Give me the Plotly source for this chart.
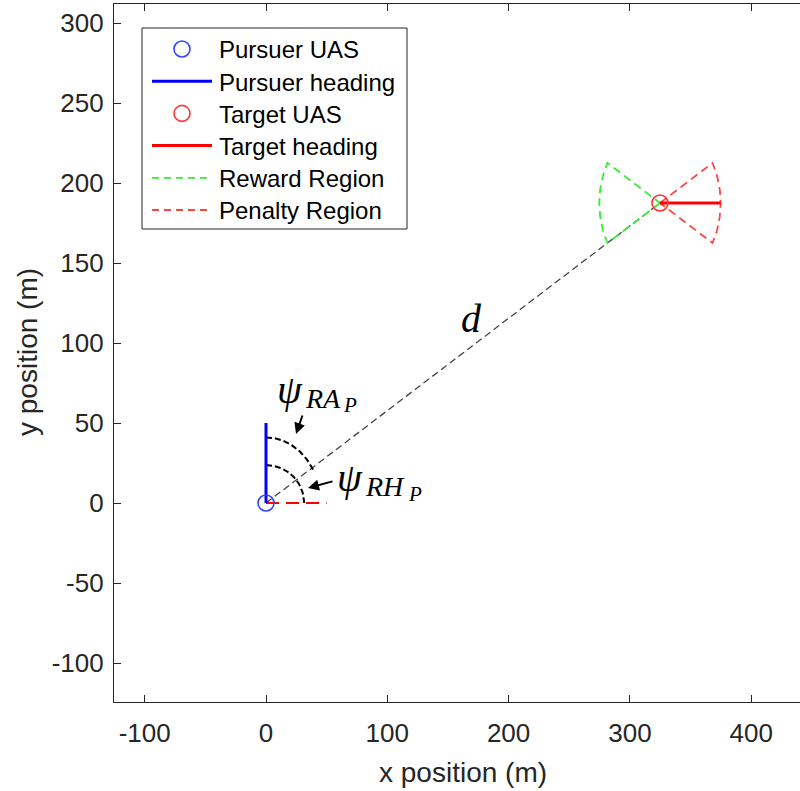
import numpy as np
import plotly.graph_objects as go

# ---------------- data ----------------
pursuer_xy = [0.0, 0.0]
pursuer_heading_deg = 90.0
target_xy = [324.8, 187.5]
target_heading_deg = 0.0
heading_len = 50.0
region_radius = 50.0
region_half_angle_deg = 30.0
ra_arc_radii = [45.0, 41.0]      # angle-marker arc (psi_RA), rx, ry
rh_arc_radii = [31.4, 23.7]      # angle-marker arc (psi_RH), rx, ry
los_angle_deg = 30.0

x_ticks = [-100, 0, 100, 200, 300, 400]
y_ticks = [-100, -50, 0, 50, 100, 150, 200, 250, 300]

legend_names = ["Pursuer UAS", "Pursuer heading", "Target UAS",
                "Target heading", "Reward Region", "Penalty Region"]

# ---------------- layout constants (screen pixels) ----------------
W, H = 800, 791
L_S, R_S, T_S, B_S = 114, 800, 4, 702   # plot box in screen px
ML, MT, MR, MB = L_S, T_S, W - R_S, H - B_S
X0PX, KX = 266.0, 1.213   # screen pixel of x=0, px per unit
Y0PX, KY = 503.0, 1.6
xr = [(L_S - X0PX) / KX, (R_S - X0PX) / KX]
yr = [(Y0PX - B_S) / KY, (Y0PX - T_S) / KY]
PW, PH = R_S - L_S, B_S - T_S


def px(xp):
    return (xp - L_S) / PW


def py(yp):
    return (B_S - yp) / PH


def dx(xp):
    return (xp - X0PX) / KX


def dy(yp):
    return (Y0PX - yp) / KY


BLUE = "#0000FF"
RED = "#FF0000"
GREEN = "#33EE33"
PRED = "#FF4444"
TXT = "#262626"

fig = go.Figure()

# line of sight
fig.add_trace(go.Scatter(x=[pursuer_xy[0], target_xy[0]], y=[pursuer_xy[1], target_xy[1]],
                         mode="lines", line=dict(color="#444444", width=1.3, dash="7px,4px"),
                         showlegend=False, hoverinfo="skip"))

# angle arcs
t1 = np.radians(np.linspace(pursuer_heading_deg, los_angle_deg, 60))
fig.add_trace(go.Scatter(x=pursuer_xy[0] + ra_arc_radii[0] * np.cos(t1),
                         y=pursuer_xy[1] + ra_arc_radii[1] * np.sin(t1),
                         mode="lines", line=dict(color="black", width=2, dash="6px,3px"),
                         showlegend=False, hoverinfo="skip"))
t2 = np.radians(np.linspace(pursuer_heading_deg, target_heading_deg, 60))
fig.add_trace(go.Scatter(x=pursuer_xy[0] + rh_arc_radii[0] * np.cos(t2),
                         y=pursuer_xy[1] + rh_arc_radii[1] * np.sin(t2),
                         mode="lines", line=dict(color="black", width=2, dash="6px,3px"),
                         showlegend=False, hoverinfo="skip"))

# target heading reference at pursuer
th = np.radians(target_heading_deg)
fig.add_trace(go.Scatter(x=[pursuer_xy[0], pursuer_xy[0] + heading_len * np.cos(th)],
                         y=[pursuer_xy[1], pursuer_xy[1] + heading_len * np.sin(th)],
                         mode="lines", line=dict(color=RED, width=2, dash="13px,7px"),
                         showlegend=False, hoverinfo="skip"))

# pursuer heading
ph = np.radians(pursuer_heading_deg)
fig.add_trace(go.Scatter(x=[pursuer_xy[0], pursuer_xy[0] + heading_len * np.cos(ph)],
                         y=[pursuer_xy[1], pursuer_xy[1] + heading_len * np.sin(ph)],
                         mode="lines", line=dict(color=BLUE, width=3),
                         name="Pursuer heading", showlegend=False))


def sector(center, direction_deg, half_deg, r):
    a = np.radians(np.linspace(direction_deg + half_deg, direction_deg - half_deg, 60))
    xs = np.concatenate([[center[0]], center[0] + r * np.cos(a), [center[0]]])
    ys = np.concatenate([[center[1]], center[1] + r * np.sin(a), [center[1]]])
    return xs, ys


rx_, ry_ = sector(target_xy, target_heading_deg + 180, region_half_angle_deg, region_radius)
fig.add_trace(go.Scatter(x=rx_, y=ry_, mode="lines",
                         line=dict(color=GREEN, width=1.8, dash="8px,5px"),
                         name="Reward Region", showlegend=False))
px_, py_ = sector(target_xy, target_heading_deg, region_half_angle_deg, region_radius)
fig.add_trace(go.Scatter(x=px_, y=py_, mode="lines",
                         line=dict(color=PRED, width=1.8, dash="8px,5px"),
                         name="Penalty Region", showlegend=False))

# target heading
fig.add_trace(go.Scatter(x=[target_xy[0], target_xy[0] + heading_len * np.cos(th)],
                         y=[target_xy[1], target_xy[1] + heading_len * np.sin(th)],
                         mode="lines", line=dict(color=RED, width=3),
                         name="Target heading", showlegend=False))

# UAS markers
fig.add_trace(go.Scatter(x=[pursuer_xy[0]], y=[pursuer_xy[1]], mode="markers",
                         marker=dict(symbol="circle-open", size=16, color="#3344FF",
                                     line=dict(width=1.6, color="#3344FF")),
                         name="Pursuer UAS", showlegend=False))
fig.add_trace(go.Scatter(x=[target_xy[0]], y=[target_xy[1]], mode="markers",
                         marker=dict(symbol="circle-open", size=16, color="#FF3333",
                                     line=dict(width=1.6, color="#FF3333")),
                         name="Target UAS", showlegend=False))

shapes = []
annotations = []

# ---------------- manual legend ----------------
shapes.append(dict(type="rect", xref="paper", yref="paper",
                   x0=px(142), x1=px(407), y0=py(229), y1=py(28),
                   line=dict(color=TXT, width=1), fillcolor="white", layer="above"))
leg_styles = [
    ("marker", "#3344FF", None),
    ("line", BLUE, dict(width=3)),
    ("marker", "#FF3333", None),
    ("line", RED, dict(width=3)),
    ("line", GREEN, dict(width=1.8, dash="7px,5px")),
    ("line", PRED, dict(width=1.8, dash="7px,5px")),
]
for i, (name, (kind, col, ls)) in enumerate(zip(legend_names, leg_styles)):
    yc = 49 + 32.2 * i
    if kind == "marker":
        shapes.append(dict(type="circle", xref="paper", yref="paper",
                           xsizemode="pixel", ysizemode="pixel",
                           xanchor=px(182), yanchor=py(yc),
                           x0=-8, x1=8, y0=-8, y1=8,
                           line=dict(color=col, width=1.6), layer="above"))
    else:
        shapes.append(dict(type="line", xref="paper", yref="paper",
                           x0=px(152), x1=px(212), y0=py(yc), y1=py(yc),
                           line=dict(color=col, **ls), layer="above"))
    annotations.append(dict(xref="paper", yref="paper", x=px(217), y=py(yc + 1),
                            xanchor="left", yanchor="middle", showarrow=False,
                            text=name, font=dict(family="Liberation Sans, Arial", size=24, color="black")))

# ---------------- math labels ----------------
SERIF = "Liberation Serif, DejaVu Serif, serif"

annotations.append(dict(x=dx(471), y=dy(318), xref="x", yref="y", showarrow=False,
                        text="<i>d</i>", font=dict(family=SERIF, size=40, color="black")))
# psi_RA_P
annotations.append(dict(x=dx(290), y=dy(389), xref="x", yref="y", showarrow=False,
                        text="<i>ψ</i>", font=dict(family=SERIF, size=40, color="black")))
annotations.append(dict(x=dx(323), y=dy(398), xref="x", yref="y", showarrow=False,
                        text="<i>RA</i>", font=dict(family=SERIF, size=28, color="black")))
annotations.append(dict(x=dx(350), y=dy(405), xref="x", yref="y", showarrow=False,
                        text="<i>P</i>", font=dict(family=SERIF, size=21, color="black")))
# psi_RH_P
annotations.append(dict(x=dx(350), y=dy(477), xref="x", yref="y", showarrow=False,
                        text="<i>ψ</i>", font=dict(family=SERIF, size=40, color="black")))
annotations.append(dict(x=dx(385), y=dy(486), xref="x", yref="y", showarrow=False,
                        text="<i>RH</i>", font=dict(family=SERIF, size=28, color="black")))
annotations.append(dict(x=dx(415), y=dy(494), xref="x", yref="y", showarrow=False,
                        text="<i>P</i>", font=dict(family=SERIF, size=21, color="black")))

# arrows
annotations.append(dict(x=dx(296), y=dy(434), ax=dx(303), ay=dy(414), xref="x", yref="y",
                        axref="x", ayref="y", showarrow=True, arrowhead=2, arrowsize=1.1,
                        arrowwidth=2, arrowcolor="black", text=""))
annotations.append(dict(x=dx(308), y=dy(488), ax=dx(334), ay=dy(481), xref="x", yref="y",
                        axref="x", ayref="y", showarrow=True, arrowhead=2, arrowsize=1.1,
                        arrowwidth=2, arrowcolor="black", text=""))

# axis titles
annotations.append(dict(xref="paper", yref="paper", x=px(463), y=py(773), showarrow=False,
                        xanchor="center", yanchor="middle", text="x position (m)",
                        font=dict(family="Liberation Sans, Arial", size=28, color=TXT)))
annotations.append(dict(xref="paper", yref="paper", x=px(27), y=py(352), showarrow=False,
                        xanchor="center", yanchor="middle", textangle=-90, text="y position (m)",
                        font=dict(family="Liberation Sans, Arial", size=28, color=TXT)))

tickfont = dict(family="Liberation Sans, Arial", size=26, color=TXT)
fig.update_layout(
    width=W, height=H, margin=dict(l=ML, r=MR, t=MT, b=MB, autoexpand=False),
    paper_bgcolor="white", plot_bgcolor="white",
    shapes=shapes, annotations=annotations, showlegend=False,
    xaxis=dict(range=xr, tickvals=x_ticks, ticktext=[str(v) for v in x_ticks],
               ticks="inside", ticklen=7, tickcolor=TXT, tickwidth=1,
               showline=True, linecolor=TXT, linewidth=1.2, mirror="ticks",
               showgrid=False, zeroline=False, tickfont=tickfont, ticklabelstandoff=8),
    yaxis=dict(range=yr, tickvals=y_ticks, ticktext=[str(v) for v in y_ticks],
               ticks="inside", ticklen=7, tickcolor=TXT, tickwidth=1,
               showline=True, linecolor=TXT, linewidth=1.2, mirror=False,
               showgrid=False, zeroline=False, tickfont=tickfont, ticklabelstandoff=4),
)

fig.write_html("out.html", config={"displayModeBar": False},
               post_script="document.body.style.margin='0';document.body.style.overflow='hidden';")
